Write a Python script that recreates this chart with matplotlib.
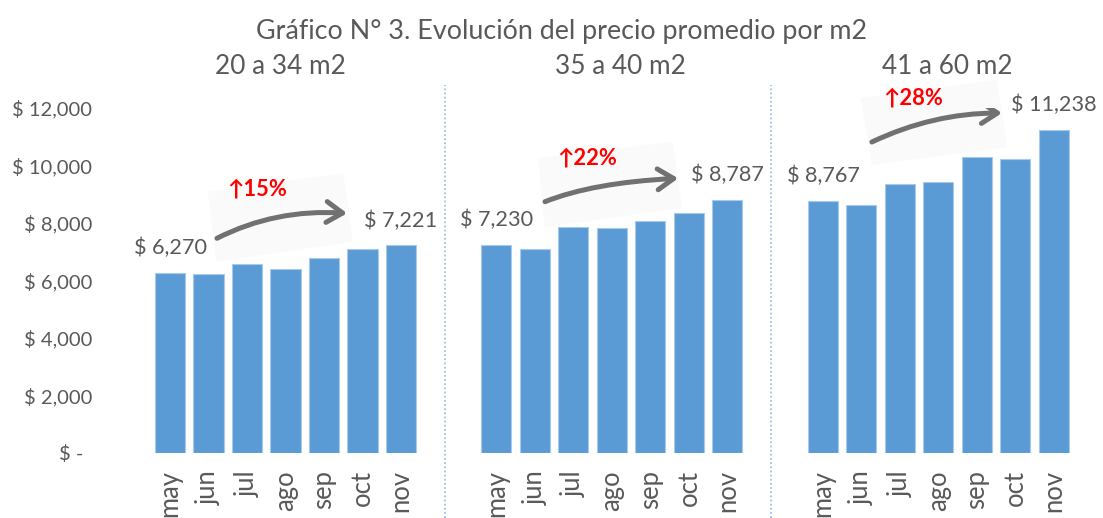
import matplotlib
matplotlib.use("Agg")
import matplotlib.pyplot as plt
from matplotlib.patches import FancyArrowPatch, Polygon
from matplotlib.path import Path
from matplotlib.transforms import ScaledTranslation, blended_transform_factory

# ---------------- data ----------------
title = "Gráfico N° 3. Evolución del precio promedio por m2"
groups = ["20 a 34 m2", "35 a 40 m2", "41 a 60 m2"]
months = ["may", "jun", "jul", "ago", "sep", "oct", "nov"]
vals_20_34 = [6270, 6240, 6590, 6390, 6800, 7080, 7221]
vals_35_40 = [7230, 7090, 7860, 7830, 8070, 8340, 8787]
vals_41_60 = [8767, 8615, 9365, 9420, 10290, 10235, 11238]
growth_labels = ["15%", "22%", "28%"]
yticks = [0, 2000, 4000, 6000, 8000, 10000, 12000]
ytick_labels = ["$ -", "$ 2,000", "$ 4,000", "$ 6,000", "$ 8,000", "$ 10,000", "$ 12,000"]

series = [vals_20_34, vals_35_40, vals_41_60]

# ---------------- layout / style ----------------
W_PX, H_PX = 1103, 518
GROUP_STRIDE = 8.48
SEP_OFFSET = 7.14
BAR_W = 0.78
UNIT_PX = 38.5
X0_PX = 170
AX_L, AX_R = 100, 1090
AX_TOP, AX_BOT = 108, 453
BAR_COLOR = "#5B9BD5"
TXT = "#595959"
FONT = ["Lato", "DejaVu Sans"]

# arrow geometry (data coords relative to group start): start, control, end
arrow_pts = [
    [(1.22, 7468), (2.74, 8497), (4.60, 8337)],
    [(1.26, 8741), (2.50, 9405), (4.72, 9555)],
    [(1.27, 10817), (2.86, 11826), (4.65, 11826)],
]
# faint backdrop behind each arrow (relative to group start)
backdrops = [
    [(0.98, 9089), (4.50, 9729), (4.75, 7350), (1.21, 6654)],
    [(1.08, 10261), (4.58, 10817), (4.82, 8522), (1.26, 7861)],
    [(0.98, 12348), (4.52, 12974), (4.78, 10643), (1.27, 10017)],
]
growth_pos = [(2.26, 9183), (2.35, 10261), (2.34, 12348)]
subtitle_x = [2.87, 3.21, 3.22]

plt.rcParams["font.family"] = FONT
fig = plt.figure(figsize=(W_PX / 100, H_PX / 100), dpi=100)
ax = fig.add_axes([AX_L / W_PX, (H_PX - AX_BOT) / H_PX,
                   (AX_R - AX_L) / W_PX, (AX_BOT - AX_TOP) / H_PX])
ax.set_xlim((AX_L - X0_PX) / UNIT_PX, (AX_R - X0_PX) / UNIT_PX)
ax.set_ylim(0, 12000)
renderer = fig.canvas.get_renderer()


def size_for(s, target_px, weight="normal"):
    t = fig.text(0, 0, s, fontsize=20, family=FONT, weight=weight)
    w = t.get_window_extent(renderer).width
    t.remove()
    return 20 * target_px / w


fs_title = size_for(title, 612)
fs_sub = size_for(groups[0], 130)
fs_tick = size_for("$ 12,000", 80)
fs_val = size_for("$ 6,270", 73)
fs_month = size_for("may", 47)
fs_growth = size_for("↑" + growth_labels[0], 60, weight="bold")

# bars
xpos_all = []
for g, vals in enumerate(series):
    xs = [g * GROUP_STRIDE + i for i in range(len(months))]
    xpos_all += xs
    ax.bar(xs, vals, width=BAR_W, color=BAR_COLOR, edgecolor="#a9c9ea",
           linewidth=0.8, zorder=3)
    # faint backdrop
    ax.add_patch(Polygon([(g * GROUP_STRIDE + p[0], p[1]) for p in backdrops[g]],
                         closed=True, facecolor="#fafafa", edgecolor="none",
                         zorder=1, clip_on=False))
    # first and last value labels
    for i in (0, len(vals) - 1):
        ax.annotate(f"$ {vals[i]:,}", (xs[i], vals[i]), xytext=(0, 18),
                    textcoords="offset points", ha="center", va="center",
                    fontsize=fs_val, color=TXT, zorder=5)
    # subtitle
    ax.text(g * GROUP_STRIDE + subtitle_x[g], 1.119, groups[g],
            transform=blended_transform_factory(ax.transData, ax.transAxes),
            ha="center", va="center", fontsize=fs_sub, color=TXT)
    # curved arrow
    p0, p1, p2 = arrow_pts[g]
    verts = [(g * GROUP_STRIDE + p[0], p[1]) for p in (p0, p1, p2)]
    path = Path(verts, [Path.MOVETO, Path.CURVE3, Path.CURVE3])
    arr = FancyArrowPatch(path=path, arrowstyle="->,head_length=1.15,head_width=0.75",
                          mutation_scale=10, lw=3.6, color="#717171",
                          capstyle="round", joinstyle="round", zorder=4)
    ax.add_patch(arr)
    gx, gy = growth_pos[g]
    ax.text(g * GROUP_STRIDE + gx, gy, "↑" + growth_labels[g], ha="center",
            va="center", fontsize=fs_growth, color="#FF0000", weight="bold",
            family=FONT, zorder=5)

# separators
bt = blended_transform_factory(ax.transData, ax.transAxes)
for g in range(2):
    x = g * GROUP_STRIDE + SEP_OFFSET
    ax.plot([x, x], [-(H_PX - AX_BOT) / (AX_BOT - AX_TOP), (AX_BOT - 85) / (AX_BOT - AX_TOP)],
            transform=bt, color="#9DC3E6", lw=1.3, linestyle=(0, (1, 1.3)),
            clip_on=False)

# axes styling
for s in ax.spines.values():
    s.set_visible(False)
ax.set_yticks(yticks)
ax.set_yticklabels(ytick_labels)
ax.set_xticks(xpos_all)
ax.set_xticklabels(months * len(series), rotation=90, va="top", ha="center")
ax.tick_params(axis="y", length=0, pad=5.8, labelsize=fs_tick, labelcolor=TXT)
ax.tick_params(axis="x", length=0, pad=12.5, labelsize=fs_month, labelcolor=TXT)
# "$ -" label sits further left in the original
zl = ax.get_yticklabels()[0]
zl.set_transform(zl.get_transform() + ScaledTranslation(-9 / 100, 0, fig.dpi_scale_trans))

fig.text(562 / W_PX, 1 - 31 / H_PX, title, ha="center", va="center",
         fontsize=fs_title, color=TXT)

fig.savefig("out.png", dpi=100, facecolor="white")
